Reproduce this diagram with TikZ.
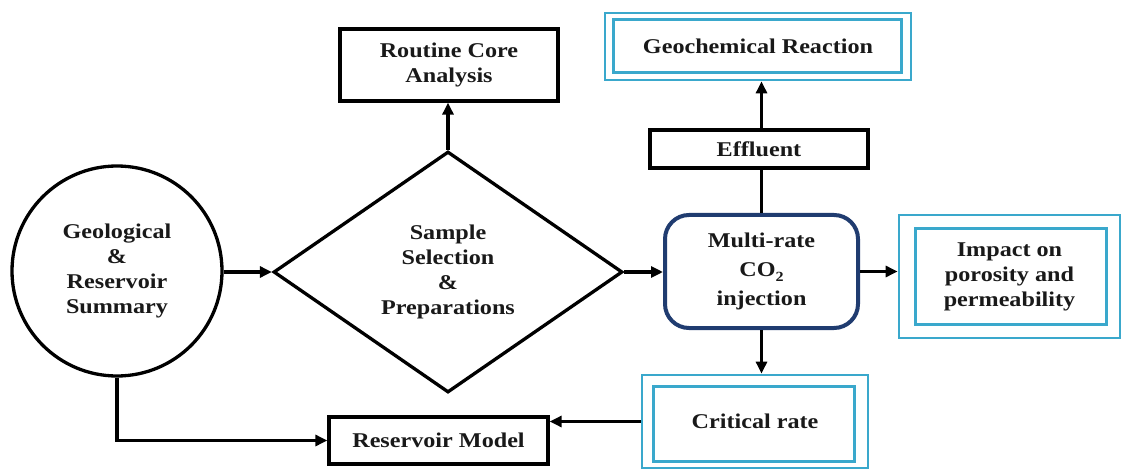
\documentclass[tikz,border=0pt]{standalone}
\usepackage{fontspec}
\setmainfont{Liberation Serif}[FakeStretch=1.15]
\usetikzlibrary{shapes.geometric,arrows.meta,calc}
\definecolor{cyanbox}{RGB}{58,168,204}
\definecolor{navybox}{RGB}{32,60,112}
\tikzset{
  lbl/.style={font=\fontsize{21}{25}\selectfont\bfseries, align=center, text=black!90},
  blackbox/.style={lbl, draw=black, line width=3.3pt, rectangle, inner sep=0pt},
  cyanouter/.style={lbl, draw=cyanbox, line width=2.8pt, rectangle, inner sep=0pt},
  cyaninner/.style={draw=cyanbox, line width=2.8pt},
  conn/.style={line width=3.3pt, draw=black},
  arr/.style={conn, -{Triangle[length=12pt,width=11pt]}},
}
\begin{document}
\begin{tikzpicture}[x=1pt,y=-1pt]
\useasboundingbox (0,0) rectangle (1123,470);
\fill[white] (0,0) rectangle (1123,470);

% nodes
\node[lbl, draw=black, line width=3.3pt, circle, minimum size=210pt, inner sep=0pt] (circ) at (117,271)
  {Geological\\\&\\Reservoir\\Summary};
\node[lbl, draw=black, line width=3.3pt, diamond, minimum width=349pt, minimum height=241pt, inner sep=0pt] (diam) at (448,272)
  {Sample\\Selection\\\&\\Preparations};
\node[blackbox, minimum width=218pt, minimum height=72pt] (rca) at (449,65) {Routine Core\\Analysis};
\node[cyanouter, minimum width=306pt, minimum height=67pt] (geo) at (758,46.5) {Geochemical Reaction};
\node[blackbox, minimum width=218pt, minimum height=38pt] (eff) at (759,149) {Effluent};
\node[lbl, font=\fontsize{21}{29}\selectfont\bfseries, draw=navybox, line width=4pt, rounded corners=24pt, rectangle, minimum width=193pt, minimum height=113pt, inner sep=0pt] (multi) at (761.5,271.5)
  {Multi-rate\\CO\raisebox{-5pt}{\fontsize{14}{14}\selectfont 2}\\injection};
\node[cyanouter, minimum width=221pt, minimum height=123pt] (imp) at (1009.5,276.5) {Impact on\\porosity and\\permeability};
\node[cyanouter, minimum width=226pt, minimum height=93pt] (crit) at (755,421.5) {Critical rate};
\node[blackbox, minimum width=219pt, minimum height=47pt] (rm) at (438.5,440.5) {Reservoir Model};

% inner cyan frames
\draw[cyaninner] ([shift={(10,-9)}]geo.south west) rectangle ([shift={(-11,8)}]geo.north east);
\draw[cyaninner] ([shift={(18,-15)}]imp.south west) rectangle ([shift={(-15,15)}]imp.north east);
\draw[cyaninner] ([shift={(13,-8)}]crit.south west) rectangle ([shift={(-15,13)}]crit.north east);

% connectors
\draw[arr] (circ.east |- diam.west) -- (diam.west);
\draw[arr] (diam.north) -- (diam.north |- rca.south);
\draw[arr] (diam.east) -- (diam.east -| multi.west);
\draw[arr] (multi.east) -- (multi.east -| imp.west);
\draw[conn] (multi.north) -- (multi.north |- eff.south);
\draw[arr] (multi.north |- eff.north) -- (multi.north |- geo.south);
\draw[arr] (multi.south) -- (multi.south |- crit.north);
\draw[arr] (crit.west) -- (crit.west -| rm.east);
\draw[arr] (circ.south) |- (rm.west);
\end{tikzpicture}
\end{document}
